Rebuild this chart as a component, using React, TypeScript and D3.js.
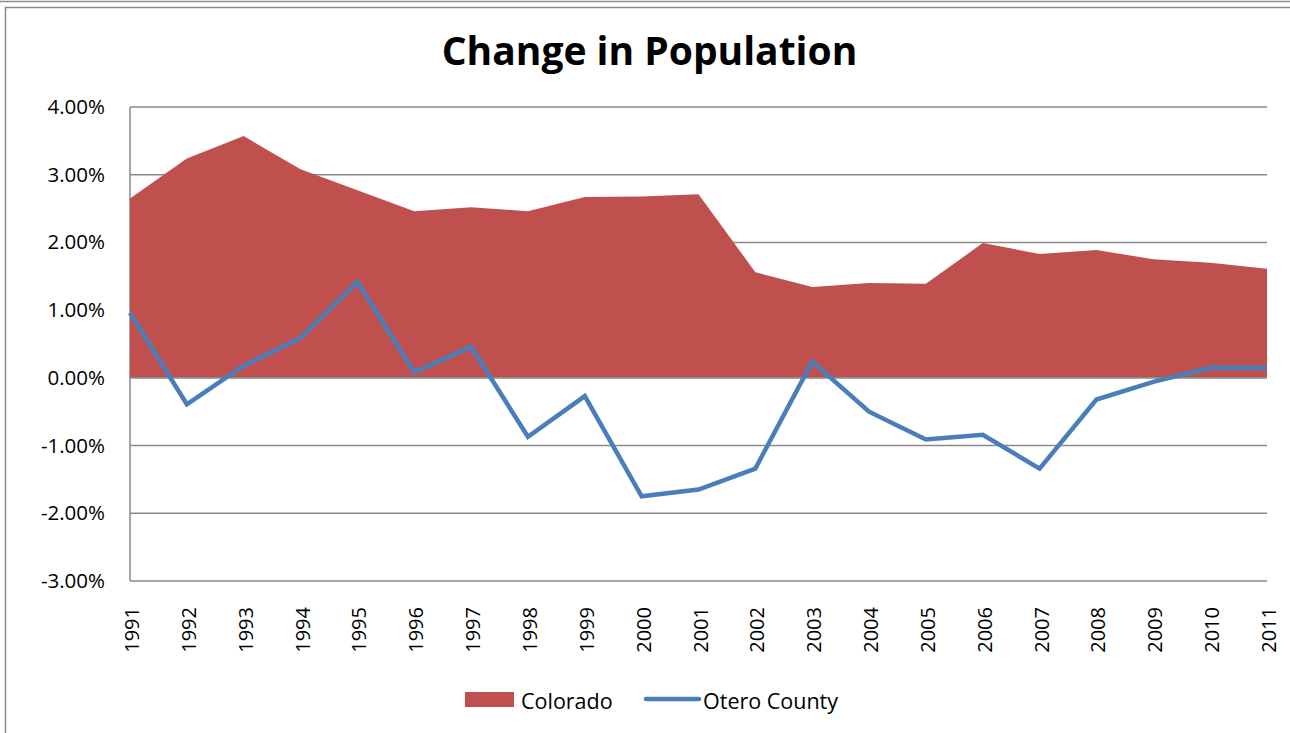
import React from "react";
import * as d3 from "d3";

const years = ["1991","1992","1993","1994","1995","1996","1997","1998","1999","2000","2001","2002","2003","2004","2005","2006","2007","2008","2009","2010","2011"];
const colorado = [2.65, 3.24, 3.57, 3.08, 2.77, 2.46, 2.52, 2.46, 2.67, 2.68, 2.71, 1.56, 1.34, 1.40, 1.39, 1.99, 1.83, 1.89, 1.75, 1.70, 1.61];
const otero = [0.96, -0.39, 0.18, 0.59, 1.42, 0.08, 0.46, -0.87, -0.27, -1.75, -1.65, -1.34, 0.24, -0.50, -0.91, -0.84, -1.34, -0.32, -0.06, 0.15, 0.15];
const yTicks = [4, 3, 2, 1, 0, -1, -2, -3];

const W = 1290, H = 733;
const plot = { left: 130, right: 1267, top: 107, bottom: 581 };
const FONT = "'Open Sans', Lato, sans-serif";

export default function App() {
  const x = d3.scalePoint<string>().domain(years).range([plot.left, plot.right]);
  const y = d3.scaleLinear().domain([-3, 4]).range([plot.bottom, plot.top]);

  const area = d3.area<number>()
    .x((_, i) => x(years[i])!)
    .y0(y(0))
    .y1((d) => y(d));
  const line = d3.line<number>()
    .x((_, i) => x(years[i])!)
    .y((d) => y(d));

  return (
    <svg width={W} height={H} style={{ position: "absolute", left: 0, top: 0, background: "#fff" }}>
      <line x1={0} x2={W} y1={1.5} y2={1.5} stroke="#8a8a8a" strokeWidth={1.5} />
      <rect x={5.5} y={7.5} width={W + 20} height={H + 20} fill="none" stroke="#8a8a8a" strokeWidth={1.5} />
      <text x={649.5} y={65} textAnchor="middle" fontFamily={FONT} fontWeight="bold" fontSize={39} fill="#000">Change in Population</text>
      {yTicks.map((t) => (
        <g key={t}>
          <line x1={plot.left} x2={plot.right} y1={y(t)} y2={y(t)} stroke="#8a8a8a" strokeWidth={1.5} />
          <text x={105} y={y(t) + 7} textAnchor="end" fontFamily={FONT} fontSize={20.5} fill="#000">{t.toFixed(2) + "%"}</text>
        </g>
      ))}
      <line x1={plot.left} x2={plot.left} y1={plot.top} y2={plot.bottom} stroke="#8a8a8a" strokeWidth={1.5} />
      <path d={area(colorado)!} fill="#C0504D" />
      <line x1={plot.left} x2={plot.right} y1={y(0)} y2={y(0)} stroke="#8a8a8a" strokeWidth={1.5} />
      <path d={line(otero)!} fill="none" stroke="#4A7EBB" strokeWidth={4.5} strokeLinejoin="miter" />
      {years.map((yr) => (
        <text key={yr} transform={`translate(${x(yr)! + 9},607) rotate(-90)`} textAnchor="end" fontFamily={FONT} fontSize={20} fill="#000">{yr}</text>
      ))}
      <rect x={465} y={692} width={49} height={15} fill="#C0504D" />
      <text x={521} y={709} fontFamily={FONT} fontSize={21.5} fill="#000">Colorado</text>
      <line x1={646} x2={699} y1={699} y2={699} stroke="#4A7EBB" strokeWidth={4.5} strokeLinecap="round" />
      <text x={703} y={709} fontFamily={FONT} fontSize={21.5} fill="#000">Otero County</text>
    </svg>
  );
}
